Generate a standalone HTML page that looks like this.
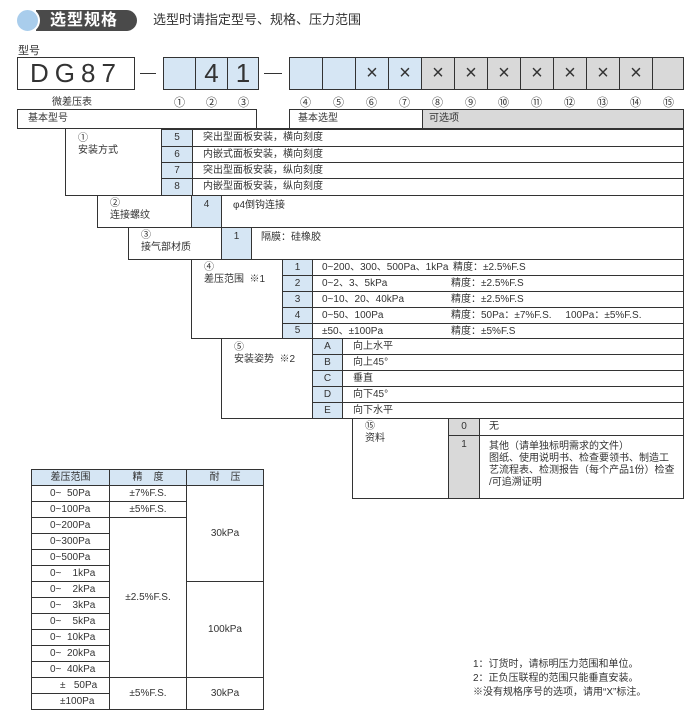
<!DOCTYPE html>
<html><head><meta charset="utf-8">
<style>
body{margin:0;width:700px;height:720px;background:#fff;position:relative;overflow:hidden;font-family:"Liberation Sans","Noto Sans CJK SC",sans-serif;color:#333;}
.a{position:absolute;}
.b{position:absolute;border:1px solid #333;box-sizing:border-box;font-size:10px;line-height:12px;white-space:nowrap;}
.bl{background:#d6e6f4;}
.gr{background:#d9d9d9;}
.c{text-align:center;}
.t{position:absolute;font-size:10px;white-space:nowrap;line-height:12px;}
.big{position:absolute;border:1px solid #333;box-sizing:border-box;height:33px;top:57px;font-size:26px;text-align:center;line-height:31px;}
.n{position:absolute;top:94px;font-size:11px;width:33px;text-align:center;}
.x{font-size:20px;}
</style></head><body>
<div class="a" style="left:36px;top:10px;width:101px;height:21px;background:#4a4a4a;border-radius:0 11px 11px 0;"></div>
<div class="a" style="left:15px;top:8px;width:21px;height:21px;border-radius:50%;background:#a9cdec;border:2px solid #fff;"></div>
<div class="a" style="left:50px;top:10px;font-size:16px;font-weight:bold;color:#fff;line-height:21px;letter-spacing:1px;">选型规格</div>
<div class="a" style="left:153px;top:12px;font-size:13px;line-height:16px;">选型时请指定型号、规格、压力范围</div>

<div class="a" style="left:18px;top:42px;font-size:11px;">型号</div>
<div class="big" style="left:17px;width:118px;letter-spacing:6px;">DG87</div>
<div class="a" style="left:52px;top:93px;font-size:10px;">微差压表</div>
<div class="a" style="left:140px;top:73px;width:16px;height:1px;background:#333"></div>
<div class="big bl" style="left:163px;width:33px;"></div>
<div class="big bl" style="left:195px;width:33px;">4</div>
<div class="big bl" style="left:227px;width:32px;">1</div>
<div class="a" style="left:264px;top:73px;width:18px;height:1px;background:#333"></div>
<div class="n" style="left:163px">①</div><div class="n" style="left:195px">②</div><div class="n" style="left:227px">③</div>

<div class="big bl" style="left:289px;width:34px;"></div>
<div class="big bl" style="left:322px;width:34px;"></div>
<div class="big bl x" style="left:355px;width:34px;">×</div>
<div class="big bl x" style="left:388px;width:34px;">×</div>
<div class="big gr x" style="left:421px;width:34px;">×</div>
<div class="big gr x" style="left:454px;width:34px;">×</div>
<div class="big gr x" style="left:487px;width:34px;">×</div>
<div class="big gr x" style="left:520px;width:34px;">×</div>
<div class="big gr x" style="left:553px;width:34px;">×</div>
<div class="big gr x" style="left:586px;width:34px;">×</div>
<div class="big gr x" style="left:619px;width:34px;">×</div>
<div class="big gr" style="left:652px;width:32px;"></div>
<div class="n" style="left:289px">④</div><div class="n" style="left:322px">⑤</div><div class="n" style="left:355px">⑥</div><div class="n" style="left:388px">⑦</div><div class="n" style="left:421px">⑧</div><div class="n" style="left:454px">⑨</div><div class="n" style="left:487px">⑩</div><div class="n" style="left:520px">⑪</div><div class="n" style="left:553px">⑫</div><div class="n" style="left:586px">⑬</div><div class="n" style="left:619px">⑭</div><div class="n" style="left:652px">⑮</div>

<div class="b" style="left:17px;top:109px;width:240px;height:20px;padding:3px 0 0 10px;">基本型号</div>
<div class="b" style="left:289px;top:109px;width:134px;height:20px;padding:3px 0 0 8px;">基本选型</div>
<div class="b gr" style="left:422px;top:109px;width:262px;height:20px;padding:3px 0 0 6px;">可选项</div>

<!-- section 1 -->
<div class="b" style="left:65px;top:128px;width:619px;height:68px;"></div>
<div class="t" style="left:78px;top:133px;">①<br>安装方式</div>
<div class="b bl c" style="left:161px;top:129px;width:32px;height:18px;line-height:16px">5</div>
<div class="b bl c" style="left:161px;top:146px;width:32px;height:17px;line-height:15px">6</div>
<div class="b bl c" style="left:161px;top:162px;width:32px;height:17px;line-height:15px">7</div>
<div class="b bl c" style="left:161px;top:178px;width:32px;height:18px;line-height:16px">8</div>
<div class="b" style="left:192px;top:129px;width:492px;height:18px;padding:2px 0 0 10px">突出型面板安装，横向刻度</div>
<div class="b" style="left:192px;top:146px;width:492px;height:17px;padding:2px 0 0 10px">内嵌式面板安装，横向刻度</div>
<div class="b" style="left:192px;top:162px;width:492px;height:17px;padding:2px 0 0 10px">突出型面板安装，纵向刻度</div>
<div class="b" style="left:192px;top:178px;width:492px;height:18px;padding:2px 0 0 10px">内嵌型面板安装，纵向刻度</div>

<!-- section 2 -->
<div class="b" style="left:97px;top:195px;width:587px;height:33px;"></div>
<div class="t" style="left:110px;top:198px;">②<br>连接螺纹</div>
<div class="b bl c" style="left:191px;top:195px;width:31px;height:33px;padding-top:3px">4</div>
<div class="b" style="left:221px;top:195px;width:463px;height:33px;padding:4px 0 0 11px">φ4倒钩连接</div>

<!-- section 3 -->
<div class="b" style="left:128px;top:227px;width:556px;height:33px;"></div>
<div class="t" style="left:141px;top:230px;">③<br>接气部材质</div>
<div class="b bl c" style="left:221px;top:227px;width:31px;height:33px;padding-top:3px">1</div>
<div class="b" style="left:251px;top:227px;width:433px;height:33px;padding:4px 0 0 9px">隔膜：硅橡胶</div>

<!-- section 4 -->
<div class="b" style="left:191px;top:259px;width:493px;height:80px;"></div>
<div class="t" style="left:204px;top:262px;">④<br>差压范围 &nbsp;※1</div>
<div class="b bl c" style="left:282px;top:259px;width:31px;height:17px;line-height:15px">1</div>
<div class="b bl c" style="left:282px;top:275px;width:31px;height:17px;line-height:15px">2</div>
<div class="b bl c" style="left:282px;top:291px;width:31px;height:17px;line-height:15px">3</div>
<div class="b bl c" style="left:282px;top:307px;width:31px;height:17px;line-height:15px">4</div>
<div class="b bl c" style="left:282px;top:323px;width:31px;height:16px;line-height:14px">5</div>
<div class="b" style="left:312px;top:259px;width:372px;height:17px;padding:2px 0 0 9px">0~200、300、500Pa、1kPa<span class="a" style="left:140px">精度：±2.5%F.S</span></div>
<div class="b" style="left:312px;top:275px;width:372px;height:17px;padding:2px 0 0 9px">0~2、3、5kPa<span class="a" style="left:138px">精度：±2.5%F.S</span></div>
<div class="b" style="left:312px;top:291px;width:372px;height:17px;padding:2px 0 0 9px">0~10、20、40kPa<span class="a" style="left:138px">精度：±2.5%F.S</span></div>
<div class="b" style="left:312px;top:307px;width:372px;height:17px;padding:2px 0 0 9px">0~50、100Pa<span class="a" style="left:138px">精度：50Pa：±7%F.S. &nbsp;&nbsp;&nbsp;&nbsp;100Pa：±5%F.S.</span></div>
<div class="b" style="left:312px;top:323px;width:372px;height:16px;padding:2px 0 0 9px">±50、±100Pa<span class="a" style="left:138px">精度：±5%F.S</span></div>

<!-- section 5 -->
<div class="b" style="left:221px;top:338px;width:463px;height:81px;"></div>
<div class="t" style="left:234px;top:342px;">⑤<br>安装姿势 &nbsp;※2</div>
<div class="b bl c" style="left:312px;top:338px;width:31px;height:17px;line-height:15px">A</div>
<div class="b bl c" style="left:312px;top:354px;width:31px;height:17px;line-height:15px">B</div>
<div class="b bl c" style="left:312px;top:370px;width:31px;height:17px;line-height:15px">C</div>
<div class="b bl c" style="left:312px;top:386px;width:31px;height:17px;line-height:15px">D</div>
<div class="b bl c" style="left:312px;top:402px;width:31px;height:17px;line-height:15px">E</div>
<div class="b" style="left:342px;top:338px;width:342px;height:17px;padding:2px 0 0 10px">向上水平</div>
<div class="b" style="left:342px;top:354px;width:342px;height:17px;padding:2px 0 0 10px">向上45°</div>
<div class="b" style="left:342px;top:370px;width:342px;height:17px;padding:2px 0 0 10px">垂直</div>
<div class="b" style="left:342px;top:386px;width:342px;height:17px;padding:2px 0 0 10px">向下45°</div>
<div class="b" style="left:342px;top:402px;width:342px;height:17px;padding:2px 0 0 10px">向下水平</div>

<!-- section 15 -->
<div class="b" style="left:352px;top:418px;width:332px;height:81px;"></div>
<div class="t" style="left:365px;top:421px;">⑮<br>资料</div>
<div class="b gr c" style="left:448px;top:418px;width:32px;height:18px;line-height:16px">0</div>
<div class="b gr c" style="left:448px;top:435px;width:32px;height:64px;padding-top:3px">1</div>
<div class="b" style="left:479px;top:418px;width:205px;height:18px;padding:2px 0 0 9px">无</div>
<div class="b" style="left:479px;top:435px;width:205px;height:64px;padding:5px 0 0 9px;line-height:12px">其他（请单独标明需求的文件）<br>图纸、使用说明书、检查要领书、制造工<br>艺流程表、检测报告（每个产品1份）检查<br>/可追溯证明</div>

<!-- bottom table -->
<div class="b bl c" style="left:31px;top:469px;width:79px;height:17px;line-height:15px">差压范围</div>
<div class="b bl c" style="left:109px;top:469px;width:78px;height:17px;line-height:15px">精 &nbsp;&nbsp;&nbsp;度</div>
<div class="b bl c" style="left:186px;top:469px;width:78px;height:17px;line-height:15px">耐 &nbsp;&nbsp;&nbsp;压</div>

<div class="b" style="left:31px;top:485px;width:79px;height:17px;padding:2px 0 0 18px">0~ &nbsp;50Pa</div>
<div class="b" style="left:31px;top:501px;width:79px;height:17px;padding:2px 0 0 18px">0~100Pa</div>
<div class="b" style="left:31px;top:517px;width:79px;height:17px;padding:2px 0 0 18px">0~200Pa</div>
<div class="b" style="left:31px;top:533px;width:79px;height:17px;padding:2px 0 0 18px">0~300Pa</div>
<div class="b" style="left:31px;top:549px;width:79px;height:17px;padding:2px 0 0 18px">0~500Pa</div>
<div class="b" style="left:31px;top:565px;width:79px;height:17px;padding:2px 0 0 18px">0~ &nbsp;&nbsp;&nbsp;1kPa</div>
<div class="b" style="left:31px;top:581px;width:79px;height:17px;padding:2px 0 0 18px">0~ &nbsp;&nbsp;&nbsp;2kPa</div>
<div class="b" style="left:31px;top:597px;width:79px;height:17px;padding:2px 0 0 18px">0~ &nbsp;&nbsp;&nbsp;3kPa</div>
<div class="b" style="left:31px;top:613px;width:79px;height:17px;padding:2px 0 0 18px">0~ &nbsp;&nbsp;&nbsp;5kPa</div>
<div class="b" style="left:31px;top:629px;width:79px;height:17px;padding:2px 0 0 18px">0~ &nbsp;10kPa</div>
<div class="b" style="left:31px;top:645px;width:79px;height:17px;padding:2px 0 0 18px">0~ &nbsp;20kPa</div>
<div class="b" style="left:31px;top:661px;width:79px;height:17px;padding:2px 0 0 18px">0~ &nbsp;40kPa</div>
<div class="b" style="left:31px;top:677px;width:79px;height:17px;padding:2px 0 0 28px">± &nbsp;&nbsp;50Pa</div>
<div class="b" style="left:31px;top:693px;width:79px;height:17px;padding:2px 0 0 28px">±100Pa</div>

<div class="b c" style="left:109px;top:485px;width:78px;height:17px;line-height:15px">±7%F.S.</div>
<div class="b c" style="left:109px;top:501px;width:78px;height:17px;line-height:15px">±5%F.S.</div>
<div class="b c" style="left:109px;top:517px;width:78px;height:161px;line-height:159px">±2.5%F.S.</div>
<div class="b c" style="left:109px;top:677px;width:78px;height:33px;line-height:31px">±5%F.S.</div>
<div class="b c" style="left:186px;top:485px;width:78px;height:97px;line-height:95px">30kPa</div>
<div class="b c" style="left:186px;top:581px;width:78px;height:97px;line-height:95px">100kPa</div>
<div class="b c" style="left:186px;top:677px;width:78px;height:33px;line-height:31px">30kPa</div>

<div class="t" style="left:473px;top:658px;line-height:14px;">1：订货时，请标明压力范围和单位。<br>2：正负压联程的范围只能垂直安装。<br>※没有规格序号的选项，请用“X”标注。</div>
</body></html>
